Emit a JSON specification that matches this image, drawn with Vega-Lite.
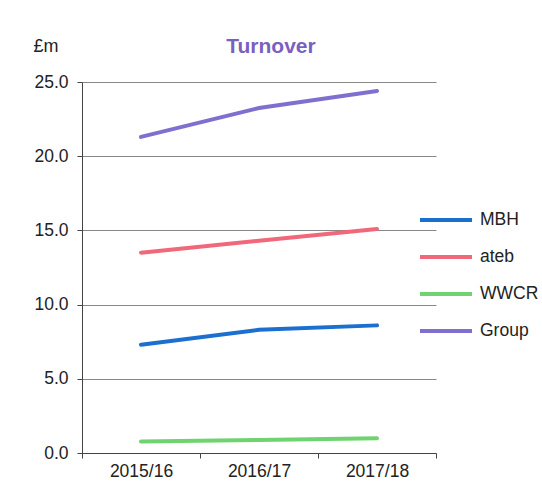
{
  "$schema": "https://vega.github.io/schema/vega-lite/v6.json",
  "width": 354,
  "height": 371,
  "autosize": {"type": "none"},
  "padding": {"left": 82, "top": 82, "right": 106, "bottom": 44},
  "background": "#ffffff",
  "title": {
    "text": "Turnover",
    "color": "#7a5fc0",
    "fontSize": 21,
    "font": "Liberation Sans",
    "fontWeight": "bold",
    "anchor": "middle",
    "frame": "group",
    "dx": 12,
    "offset": -20
  },
  "data": {
    "values": [
      {"year": "2015/16", "series": "MBH", "value": 7.3},
      {"year": "2016/17", "series": "MBH", "value": 8.3},
      {"year": "2017/18", "series": "MBH", "value": 8.6},
      {"year": "2015/16", "series": "ateb", "value": 13.5},
      {"year": "2016/17", "series": "ateb", "value": 14.3},
      {"year": "2017/18", "series": "ateb", "value": 15.1},
      {"year": "2015/16", "series": "WWCR", "value": 0.77},
      {"year": "2016/17", "series": "WWCR", "value": 0.88},
      {"year": "2017/18", "series": "WWCR", "value": 1.0},
      {"year": "2015/16", "series": "Group", "value": 21.3},
      {"year": "2016/17", "series": "Group", "value": 23.25},
      {"year": "2017/18", "series": "Group", "value": 24.4}
    ]
  },
  "mark": {"type": "line", "strokeWidth": 4, "strokeCap": "round"},
  "encoding": {
    "x": {
      "field": "year",
      "type": "ordinal",
      "bandPosition": 0.5,
      "scale": {"type": "band", "paddingInner": 0, "paddingOuter": 0},
      "axis": {
        "title": null,
        "labelAngle": 0,
        "tickBand": "extent",
        "labelFontSize": 17.5,
        "labelFont": "Liberation Sans",
        "labelColor": "#222",
        "labelPadding": 4,
        "domainColor": "#444",
        "tickColor": "#444",
        "tickSize": 5,
        "grid": false
      }
    },
    "y": {
      "field": "value",
      "type": "quantitative",
      "scale": {"domain": [0, 25], "nice": false},
      "axis": {
        "values": [0, 5, 10, 15, 20, 25],
        "format": ".1f",
        "title": "£m",
        "titleAngle": 0,
        "titleX": -49,
        "titleY": -36,
        "titleAlign": "left",
        "titleBaseline": "middle",
        "titleFontSize": 18,
        "titleFontWeight": "normal",
        "titleFont": "Liberation Sans",
        "titleColor": "#222",
        "labelFontSize": 17.5,
        "labelFont": "Liberation Sans",
        "labelColor": "#222",
        "labelPadding": 9,
        "tickSize": 5,
        "tickColor": "#444",
        "domainColor": "#444",
        "grid": true,
        "gridColor": "#888",
        "gridWidth": 1
      }
    },
    "color": {
      "field": "series",
      "type": "nominal",
      "sort": ["MBH", "ateb", "WWCR", "Group"],
      "scale": {
        "domain": ["MBH", "ateb", "WWCR", "Group"],
        "range": ["#1b6fcf", "#f0687a", "#6fd46f", "#7f70d0"]
      },
      "legend": {
        "title": null,
        "orient": "none",
        "legendX": 336,
        "legendY": 110,
        "padding": 0,
        "symbolType": "stroke",
        "symbolSize": 2704,
        "symbolStrokeWidth": 4,
        "rowPadding": -17.4,
        "labelFontSize": 17.5,
        "labelFont": "Liberation Sans",
        "labelColor": "#222",
        "labelOffset": 6
      }
    }
  },
  "config": {"view": {"stroke": null}}
}
